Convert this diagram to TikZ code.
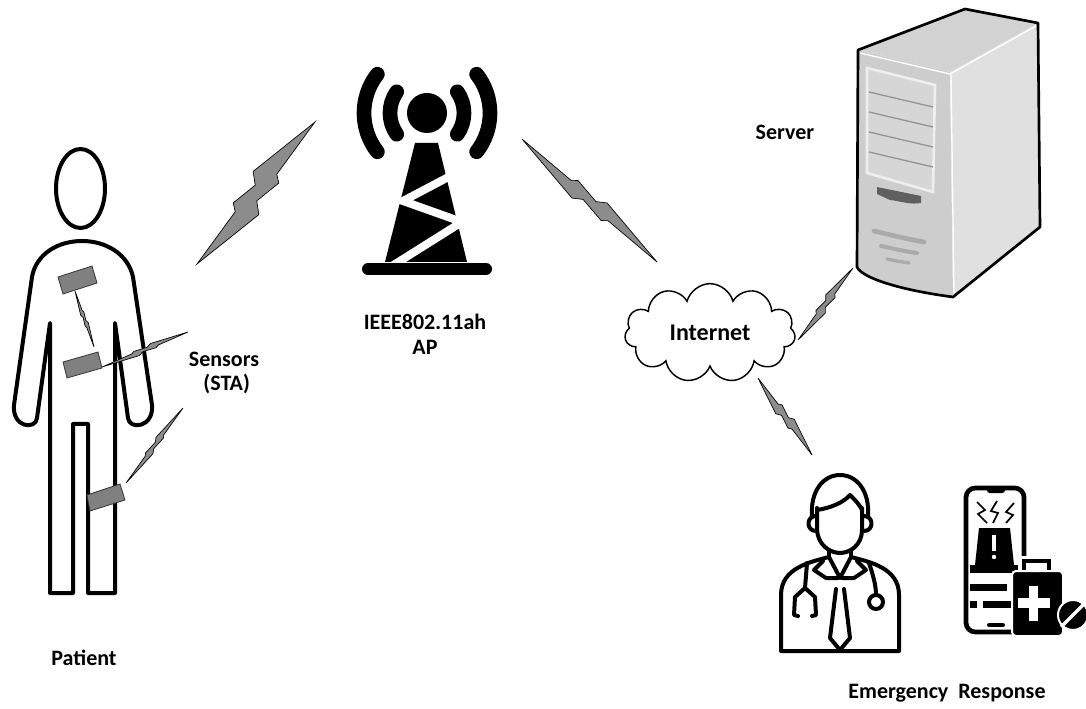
\documentclass[tikz,border=0pt]{standalone}
\usepackage{fontspec}
\setmainfont{Carlito}
\usetikzlibrary{calc,shapes.symbols}

\tikzset{
  zap/.style={draw=black, line width=0.5pt, line join=miter, fill={rgb, 255:red, 140; green, 140; blue, 140}},
  sensor/.style={draw={rgb, 255:red, 55; green, 55; blue, 55}, line width=0.6pt, fill={rgb, 255:red, 128; green, 128; blue, 128}},
  outline/.style={line width=3pt, line join=round},
  icon/.style={line width=3pt, line cap=round, line join=round},
  label/.style={font=\bfseries\fontsize{16.5}{18.5}\selectfont, inner sep=0.75pt, align=center}
}

% lightning bolt between two points, #3 = half width
\newcommand{\zap}[3]{%
  \draw[zap] (#1)
    -- ($(#1)!0.42!(#2)!#3!90:(#2)$)
    -- ($(#1)!0.47!(#2)!{0.35*#3}!90:(#2)$)
    -- ($(#1)!0.62!(#2)!{0.7*#3}!90:(#2)$)
    -- ($(#1)!0.65!(#2)!{0.25*#3}!90:(#2)$)
    -- (#2)
    -- ($(#1)!0.58!(#2)!#3!-90:(#2)$)
    -- ($(#1)!0.53!(#2)!{0.35*#3}!-90:(#2)$)
    -- ($(#1)!0.38!(#2)!{0.7*#3}!-90:(#2)$)
    -- ($(#1)!0.35!(#2)!{0.25*#3}!-90:(#2)$)
    -- cycle;}

\begin{document}
\begin{tikzpicture}[x=0.75pt,y=0.75pt,yscale=-1,xscale=1]
	\useasboundingbox (0,0) rectangle (1086,709);

	%Shape: Patient head
	\draw [outline] (80.5,188.5) ellipse (24.5 and 39.5);
	%Shape: Patient body
	\draw [outline] (82,241) .. controls (58,241) and (36,254) .. (32,277) -- (14,405) .. controls (12,428) and (36,430) .. (37,418) -- (50,323) -- (50,593) -- (73,593) -- (73,424) -- (88,424) -- (88,593) -- (115,593) -- (115,323) -- (128,418) .. controls (129,430) and (154,428) .. (152,405) -- (133,277) .. controls (128,254) and (106,241) .. (82,241) -- cycle;

	%Shape: Sensors on the body
	\draw [sensor] (58,277) -- (92,266) -- (97,283) -- (63,294) -- cycle;
	\draw [sensor] (63,362) -- (98,352) -- (102,368) -- (67,378) -- cycle;
	\draw [sensor] (87,495) -- (120,484) -- (125,500) -- (90,511) -- cycle;

	%Shape: AP tower
	\fill (427,113) circle (20);
	\draw [line width=11pt, line cap=round] (427,113) ++(145:37) arc (145:215:37);
	\draw [line width=11pt, line cap=round] (427,113) ++(-35:37) arc (-35:35:37);
	\draw [line width=11pt, line cap=round] (427,113) ++(142:63) arc (142:218:63);
	\draw [line width=11pt, line cap=round] (427,113) ++(-38:63) arc (-38:38:63);
	\fill (415,143) -- (438,143) -- (467,262) -- (385,262) -- cycle;
	\draw [white, line width=6pt, line join=miter] (458,172) -- (403,201) -- (462,222) -- (392,266);
	\draw [line width=9pt, line cap=round] (368,269) -- (486,269);

	%Shape: Server
	\fill [color={rgb, 255:red, 205; green, 205; blue, 205}] (858,50) -- (950,72) -- (953,297) .. controls (900,290) and (862,278) .. (857,267) -- cycle;
	\fill [color={rgb, 255:red, 224; green, 224; blue, 224}] (950,72) -- (1038,23) -- (1040,227) -- (953,297) -- cycle;
	\fill [color={rgb, 255:red, 210; green, 210; blue, 210}] (858,50) -- (965,9) -- (1038,23) -- (950,72) -- cycle;
	\draw [white, line width=1pt] (860,53) -- (950,74) -- (1036,26);
	\draw [white, line width=1pt] (951,74) -- (954,294);
	\draw [line width=2pt, line join=round] (858,50) -- (965,9) -- (1038,23) -- (1040,227) -- (953,297) .. controls (900,290) and (862,278) .. (857,267) -- cycle;
	\draw [color={rgb, 255:red, 238; green, 238; blue, 238}, line width=2pt, fill={rgb, 255:red, 214; green, 214; blue, 214}] (867,68) -- (935,85) -- (933,192) -- (867,173) -- cycle;
	\foreach \y in {92,112,132,152} {
		\draw [color={rgb, 255:red, 150; green, 150; blue, 150}, line width=1pt] (869,\y) -- (933,\y+15);
	}
	\fill [color={rgb, 255:red, 95; green, 95; blue, 95}] (877,187) -- (921,196) -- (921,203) .. controls (910,205) and (900,201) .. (890,200) -- (877,194) -- cycle;
	\draw [color={rgb, 255:red, 170; green, 170; blue, 170}, line width=3.5pt, line cap=round] (874,231) .. controls (895,236) and (912,240) .. (924,242);
	\draw [color={rgb, 255:red, 170; green, 170; blue, 170}, line width=3pt, line cap=round] (881,246) .. controls (895,249) and (908,252) .. (917,253);
	\draw [color={rgb, 255:red, 170; green, 170; blue, 170}, line width=2.5pt, line cap=round] (887,259) .. controls (895,261) and (903,262) .. (909,263);

	%Shape: Doctor
	\draw [icon] (812,517) .. controls (810,490) and (824,475) .. (840,475) .. controls (856,475) and (870,490) .. (868,517);
	\draw [icon] (817,508) -- (817,530) .. controls (818,545) and (830,553) .. (840,553) .. controls (850,553) and (862,545) .. (862,530) -- (862,508);
	\draw [icon] (817,510) .. controls (830,508) and (843,503) .. (850,495) .. controls (855,500) and (860,505) .. (862,510);
	\draw [icon] (816,516) .. controls (806,516) and (806,531) .. (816,531);
	\draw [icon] (864,516) .. controls (874,516) and (874,531) .. (864,531);
	\draw [icon] (829,550) -- (829,557);
	\draw [icon] (851,550) -- (851,557);
	\draw [icon] (829,557) .. controls (810,562) and (781,568) .. (781,595) -- (781,651) -- (899,651) -- (899,595) .. controls (899,568) and (870,562) .. (851,557);
	\draw [icon] (829,557) -- (840,578) -- (851,557);
	\draw [icon] (823,561) -- (814,570) -- (826,578) -- (838,578);
	\draw [icon] (857,561) -- (866,570) -- (854,578) -- (842,578);
	\draw [icon] (836,589) -- (830,638) -- (840,650) -- (850,638) -- (844,589);
	\draw [icon] (807,563) -- (805,588) -- (795,597) -- (794,615) -- (798,616);
	\draw [icon] (805,588) -- (815,597) -- (816,615) -- (812,616);
	\draw [icon] (869,563) .. controls (873,575) and (876,585) .. (876,595);
	\draw [icon] (876,602) circle (7);

	%Shape: Emergency phone and kit
	\draw [line width=3.5pt, rounded corners=7] (966,488) rectangle (1024,632);
	\fill [rounded corners=2] (987,486) rectangle (1005,493);
	\draw [line width=1.3pt] (977,502) -- (985,510) -- (978,514) -- (987,523);
	\draw [line width=1.3pt] (997,501) -- (991,511) -- (998,513) -- (993,523);
	\draw [line width=1.3pt] (1014,503) -- (1006,512) -- (1013,515) -- (1006,523);
	\fill (979,528) -- (1010,528) -- (1014,565) -- (975,565) -- cycle;
	\fill (970,565) rectangle (1018,573);
	\fill [white] (992,535) rectangle (996,551);
	\fill [white] (994,557) circle (2.2);
	\fill (970,584) rectangle (1007,591);
	\fill (970,601) rectangle (977,608);
	\fill (983,601) rectangle (1012,608);
	\draw [line width=3pt, line cap=round] (989,625) -- (1003,625);
	\draw [white, line width=6pt] (1023,572) -- (1023,560) -- (1050,560) -- (1050,572);
	\draw [line width=3pt] (1024,572) -- (1024,561) -- (1049,561) -- (1049,572);
	\filldraw [draw=white, line width=1.5pt, rounded corners=3] (1012,571) rectangle (1063,636);
	\fill [white] (1029,586) rectangle (1038,621);
	\fill [white] (1018,598) rectangle (1050,608);
	\filldraw [draw=white, line width=1.5pt] (1073,615) circle (15);
	\draw [white, line width=2.5pt] (1061,627) -- (1085,603);

	% Wireless links
	\coordinate (staUp) at (197,264);
	\coordinate (apIn) at (315,122);
	\coordinate (apOut) at (522,139);
	\coordinate (netIn) at (657,262);
	\coordinate (netUp) at (798,340);
	\coordinate (srvIn) at (853,268);
	\coordinate (netDown) at (758,378);
	\coordinate (docIn) at (812,455);
	\coordinate (chestTx) at (75,291);
	\coordinate (waistRx) at (94,347);
	\coordinate (waistTx) at (102,367);
	\coordinate (waistOut) at (188,332);
	\coordinate (legTx) at (126,483);
	\coordinate (legOut) at (183,408);
	\zap{staUp}{apIn}{12pt}
	\zap{apOut}{netIn}{7.5pt}
	\zap{netUp}{srvIn}{4pt}
	\zap{netDown}{docIn}{4.5pt}
	\zap{chestTx}{waistRx}{1.8pt}
	\zap{waistTx}{waistOut}{2.6pt}
	\zap{legTx}{legOut}{2.8pt}

	%Shape: Cloud
	\node [cloud, draw, line width=1.1pt, cloud puffs=11, aspect=1.8, minimum width=128pt, minimum height=74pt, inner sep=0pt, font=\bfseries\fontsize{18}{20}\selectfont] (internet) at (710,333) {Internet};

	% Text Node
	\node [label] (ap) at (425,334) {IEEE802.11ah\\AP};
	% Text Node
	\node [label] (sensors) at (224,373) {Sensors\\\hspace*{4pt}(STA)};
	% Text Node
	\node [label] (patient) at (84,658) {Patient};
	% Text Node
	\node [label] (server) at (785,132) {Server};
	% Text Node
	\node [label] (emergency) at (947,693) {Emergency\ \ Response};

\end{tikzpicture}
\end{document}
